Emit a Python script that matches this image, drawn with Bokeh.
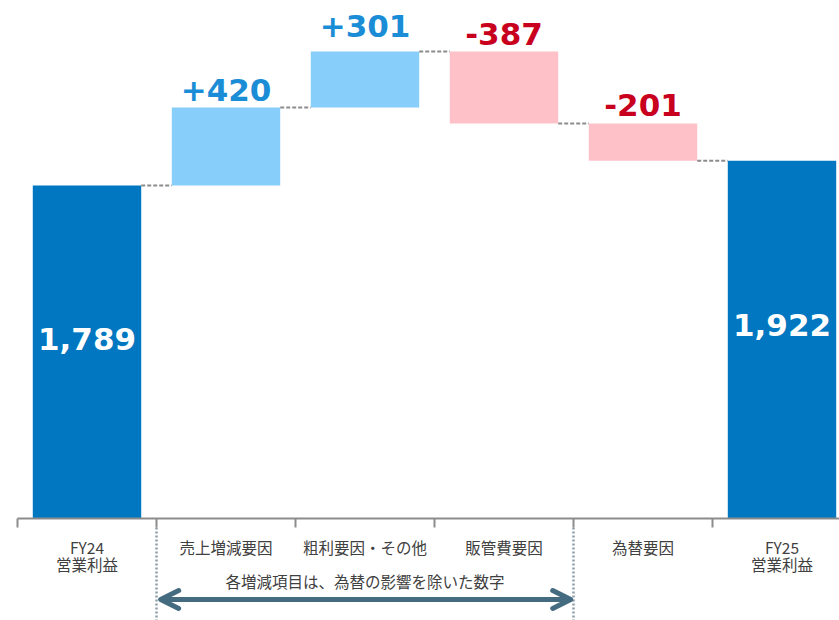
from bokeh.plotting import figure
from bokeh.models import ColumnDataSource, Arrow, OpenHead, Range1d
from bokeh.core.properties import value
from bokeh.embed import file_html
from bokeh.resources import INLINE

# ---- data ----
categories = ["FY24\n営業利益", "売上増減要因", "粗利要因・その他", "販管費要因", "為替要因", "FY25\n営業利益"]
deltas = [1789, 420, 301, -387, -201, 1922]
kinds = ["total", "up", "up", "down", "down", "total"]
value_labels = ["1,789", "+420", "+301", "-387", "-201", "1,922"]
note_text = "各増減項目は、為替の影響を除いた数字"
note_span = (1, 3)  # categories covered by the note (first, last)

# ---- styles ----
FILL = {"total": "#0077C0", "up": "#87CEFA", "down": "#FFC1C8"}
LABEL_COLOR = {"total": "#FFFFFF", "up": "#1B8CD6", "down": "#C8001E"}
label_gap_px = [0, 17.5, 25, 17.5, 18.5, 0]  # gap of each label above its bar
FONT = "DejaVu Sans"
JP_FONT = "Noto Sans CJK JP"

W, H = 839, 620
px_per_unit = 0.1861
axis_y_px = 518
left_px = 17
cat_px = 139
bar_w = 0.78

y_top = axis_y_px / px_per_unit
y_bot = -(H - axis_y_px) / px_per_unit
x_left = -0.5 - left_px / cat_px
x_right = x_left + W / cat_px
u = 1 / px_per_unit  # data units per pixel (y)

# ---- waterfall geometry ----
xs = list(range(len(categories)))
bottoms, tops, ends = [], [], []
level = 0
for d, k in zip(deltas, kinds):
    if k == "total":
        bottoms.append(0); tops.append(d); level = d
    else:
        new = level + d
        bottoms.append(min(level, new)); tops.append(max(level, new)); level = new
    ends.append(level)

src = ColumnDataSource(dict(
    x=xs, bottom=bottoms, top=tops,
    color=[FILL[k] for k in kinds],
))

p = figure(width=W, height=H, output_backend="svg", toolbar_location=None,
           x_range=Range1d(x_left, x_right), y_range=Range1d(y_bot, y_top),
           min_border=0, outline_line_color=None)
p.xaxis.visible = False
p.yaxis.visible = False
p.xgrid.visible = False
p.ygrid.visible = False
p.background_fill_color = "white"
p.border_fill_color = "white"

p.vbar(x="x", bottom="bottom", top="top", width=bar_w, fill_color="color",
       line_color=None, source=src)

# connectors
cx0 = [x + bar_w / 2 for x in xs[:-1]]
cx1 = [x + 1 - bar_w / 2 for x in xs[:-1]]
cy = ends[:-1]
p.segment(x0=cx0, y0=cy, x1=cx1, y1=cy, line_color="#8C8C8C", line_width=2,
          line_dash="4 2")

# axis line & ticks
p.segment(x0=[-0.5], y0=[0], x1=[x_right], y1=[0], line_color="#8C8C8C", line_width=2)
tick_x = [i - 0.5 for i in range(len(categories))]
p.segment(x0=tick_x, y0=[0] * len(tick_x), x1=tick_x, y1=[-9 * u] * len(tick_x),
          line_color="#8C8C8C", line_width=2)

# value labels
tot = [i for i, k in enumerate(kinds) if k == "total"]
oth = [i for i, k in enumerate(kinds) if k != "total"]
p.text(x=[xs[i] for i in tot], y=[tops[i] * 0.54 for i in tot],
       text=[value_labels[i] for i in tot],
       text_color=[LABEL_COLOR[kinds[i]] for i in tot], text_font=value(FONT),
       text_font_style="bold", text_font_size="31px", text_align="center",
       text_baseline="middle")
p.text(x=[xs[i] for i in oth], y=[tops[i] + label_gap_px[i] * u for i in oth],
       text=[value_labels[i] for i in oth],
       text_color=[LABEL_COLOR[kinds[i]] for i in oth], text_font=value(FONT),
       text_font_style="bold", text_font_size="31px", text_align="center",
       text_baseline="middle")

# category labels (one glyph per line)
line_x, line_y, line_t = [], [], []
for x, c in zip(xs, categories):
    for j, part in enumerate(c.split("\n")):
        line_x.append(x); line_y.append(-(28 + 17 * j) * u); line_t.append(part)
p.text(x=line_x, y=line_y, text=line_t, text_color="#404040",
       text_font=value(JP_FONT), text_font_size="15.5px", text_align="center",
       text_baseline="middle")

# note: dotted boundaries, text, arrow
nx0 = note_span[0] - 0.5
nx1 = note_span[1] + 0.5
p.segment(x0=[nx0, nx1], y0=[-9 * u, -9 * u], x1=[nx0, nx1], y1=[y_bot, y_bot],
          line_color="#8E9CA8", line_width=2.5, line_dash="2 2")
p.text(x=[(nx0 + nx1) / 2], y=[-62 * u], text=[note_text], text_color="#404040",
       text_font=value(JP_FONT), text_font_size="15.5px", text_align="center",
       text_baseline="middle")
arr_y = -81 * u
head = dict(size=18, line_color="#456B80", line_width=5, line_cap="round", line_join="round")
p.add_layout(Arrow(x_start=(nx0 + nx1) / 2, y_start=arr_y, x_end=nx0 + 0.03, y_end=arr_y,
                   line_color="#456B80", line_width=5, end=OpenHead(**head)))
p.add_layout(Arrow(x_start=(nx0 + nx1) / 2, y_start=arr_y, x_end=nx1 - 0.02, y_end=arr_y,
                   line_color="#456B80", line_width=5, end=OpenHead(**head)))

open("out.html", "w").write(file_html(p, INLINE))
